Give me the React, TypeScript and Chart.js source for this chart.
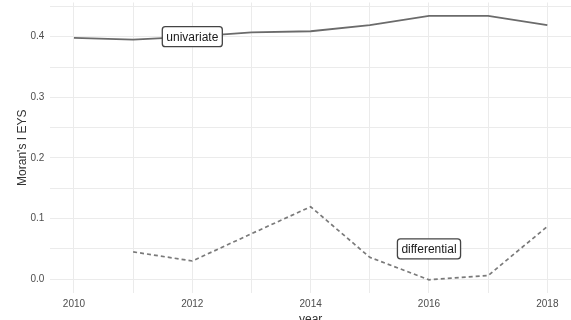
import React, { useEffect, useRef } from 'react';
import { Chart, registerables } from 'chart.js';

Chart.register(...registerables);

const years = [2010, 2011, 2012, 2013, 2014, 2015, 2016, 2017, 2018];
const univariate = [0.398, 0.395, 0.4, 0.407, 0.409, 0.419, 0.4345, 0.4345, 0.419];
const differentialYears = [2011, 2012, 2013, 2014, 2015, 2016, 2017, 2018];
const differential = [0.045, 0.03, 0.075, 0.1195, 0.036, -0.001, 0.006, 0.087];
const xTickValues = [2010, 2011, 2012, 2013, 2014, 2015, 2016, 2017, 2018];
const xTickLabels = ['2010', '', '2012', '', '2014', '', '2016', '', '2018'];
const yTickValues = [0, 0.05, 0.1, 0.15, 0.2, 0.25, 0.3, 0.35, 0.4, 0.45];
const yTickLabels = ['0.0', '', '0.1', '', '0.2', '', '0.3', '', '0.4', ''];
const labelTexts = ['univariate', 'differential'];
const labelX = [2012, 2016];
const labelY = [0.4, 0.05];
const xTitle = 'year';
const yTitle = "Moran's I EYS";

const FONT = "'Liberation Sans', Arial, sans-serif";

export default function App() {
  const ref = useRef<HTMLCanvasElement | null>(null);

  useEffect(() => {
    if (!ref.current) return;

    const overlay = {
      id: 'overlay',
      afterDatasetsDraw(chart: any) {
        const ctx = chart.ctx;
        const xs = chart.scales.x;
        const ys = chart.scales.y;
        ctx.save();
        ctx.font = `12px ${FONT}`;
        ctx.textBaseline = 'middle';
        ctx.textAlign = 'center';
        labelTexts.forEach((t, i) => {
          const cx = xs.getPixelForValue(labelX[i]);
          const cy = ys.getPixelForValue(labelY[i]);
          const w = ctx.measureText(t).width + 8;
          const h = 20;
          const x0 = cx - w / 2;
          const y0 = cy - h / 2;
          ctx.beginPath();
          if ((ctx as any).roundRect) (ctx as any).roundRect(x0, y0, w, h, 3);
          else ctx.rect(x0, y0, w, h);
          ctx.fillStyle = '#ffffff';
          ctx.fill();
          ctx.lineWidth = 1.3;
          ctx.strokeStyle = '#444444';
          ctx.stroke();
          ctx.fillStyle = '#1a1a1a';
          ctx.fillText(t, cx, cy + 0.5);
        });
        ctx.fillStyle = '#333333';
        ctx.font = `12px ${FONT}`;
        ctx.textAlign = 'center';
        ctx.textBaseline = 'alphabetic';
        ctx.fillText(xTitle, (chart.chartArea.left + chart.chartArea.right) / 2, 323);
        ctx.translate(26, (chart.chartArea.top + chart.chartArea.bottom) / 2);
        ctx.rotate(-Math.PI / 2);
        ctx.fillText(yTitle, 0, 0);
        ctx.restore();
      },
    };

    const chart = new Chart(ref.current, {
      type: 'line',
      data: {
        datasets: [
          {
            label: 'univariate',
            data: years.map((y, i) => ({ x: y, y: univariate[i] })),
            borderColor: '#6b6b6b',
            borderWidth: 1.8,
            pointRadius: 0,
            fill: false,
            tension: 0,
          },
          {
            label: 'differential',
            data: differentialYears.map((y, i) => ({ x: y, y: differential[i] })),
            borderColor: '#7a7a7a',
            borderWidth: 1.7,
            borderDash: [4, 3],
            pointRadius: 0,
            fill: false,
            tension: 0,
          },
        ],
      },
      options: {
        responsive: false,
        animation: false,
        layout: { padding: { top: 2.5, right: 0, left: 0, bottom: 0 } },
        plugins: {
          legend: { display: false },
          tooltip: { enabled: false },
        },
        scales: {
          x: {
            type: 'linear',
            min: 2009.6,
            max: 2018.4,
            border: { display: false },
            grid: { color: '#ebebeb', lineWidth: 1, drawTicks: false },
            afterBuildTicks(scale: any) {
              scale.ticks = xTickValues.map((v) => ({ value: v }));
            },
            afterFit(scale: any) {
              scale.height = 27;
              scale.paddingLeft = 0;
              scale.paddingRight = 0;
              scale.paddingTop = 0;
              scale.paddingBottom = 0;
            },
            ticks: {
              autoSkip: false,
              maxRotation: 0,
              padding: 5,
              color: '#4d4d4d',
              font: { family: FONT, size: 10 },
              callback: (v: any, i: number) => xTickLabels[i] ?? '',
            },
          },
          y: {
            type: 'linear',
            min: -0.0228,
            max: 0.4564,
            border: { display: false },
            grid: { color: '#ebebeb', lineWidth: 1, drawTicks: false },
            afterBuildTicks(scale: any) {
              scale.ticks = yTickValues.map((v) => ({ value: v }));
            },
            afterFit(scale: any) {
              scale.width = 50.3;
              scale.paddingLeft = 0;
              scale.paddingRight = 0;
              scale.paddingTop = 0;
              scale.paddingBottom = 0;
            },
            ticks: {
              autoSkip: false,
              padding: 6,
              color: '#4d4d4d',
              font: { family: FONT, size: 10 },
              callback: (v: any, i: number) => yTickLabels[i] ?? '',
            },
          },
        },
      },
      plugins: [overlay],
    });

    return () => chart.destroy();
  }, []);

  return (
    <div style={{ position: 'fixed', left: 0, top: 0, width: 571, height: 320, background: '#fff' }}>
      <canvas ref={ref} width={571} height={320} style={{ display: 'block', width: 571, height: 320 }} />
    </div>
  );
}
